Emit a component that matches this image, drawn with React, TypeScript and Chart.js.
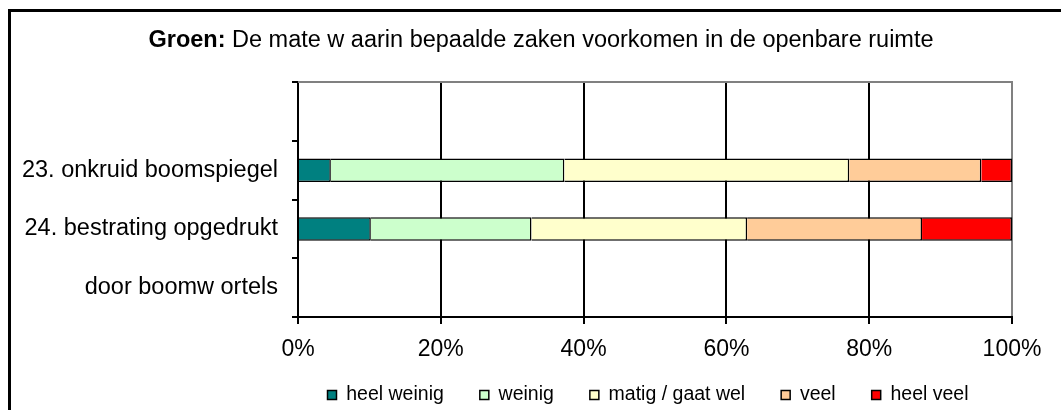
import { useEffect, useRef } from 'react';
import { Chart, registerables } from 'chart.js';

Chart.register(...registerables);

const categories = ['', '23. onkruid boomspiegel', '24. bestrating opgedrukt', 'door boomw ortels'];
const seriesNames = ['heel weinig', 'weinig', 'matig / gaat wel', 'veel', 'heel veel'];
const heelWeinig = [null, 4.6, 10.2, null];
const weinig = [null, 32.7, 22.5, null];
const matig = [null, 39.9, 30.2, null];
const veel = [null, 18.5, 24.5, null];
const heelVeel = [null, 4.3, 12.6, null];
const seriesColors = ['#008080', '#CCFFCC', '#FFFFCC', '#FFCC99', '#FF0000'];
const xTickStep = 20;
const titleBold = 'Groen:';
const titleRest = ' De mate w aarin bepaalde zaken voorkomen in de openbare ruimte';

const FONT = 'Arial, "Liberation Sans", sans-serif';
const TITLE_SIZE = 23.5;

const framePlugin = {
  id: 'frameAndTitle',
  beforeDraw(chart: any) {
    const ctx = chart.ctx;
    // place the legend row under the plot area, as in the reference
    if (chart.legend) {
      const lg = chart.legend;
      lg.top = 349.25;
      lg.bottom = chart.height;
      lg.left = 284;
      lg.right = 1012;
    }
    ctx.save();
    ctx.fillStyle = '#ffffff';
    ctx.fillRect(0, 0, chart.width, chart.height);
    ctx.strokeStyle = '#000000';
    ctx.lineWidth = 3;
    ctx.strokeRect(9.5, 10.5, chart.width + 60, chart.height + 60);
    ctx.fillStyle = '#000000';
    ctx.textBaseline = 'alphabetic';
    ctx.textAlign = 'left';
    ctx.font = `bold ${TITLE_SIZE}px ${FONT}`;
    const wb = ctx.measureText(titleBold).width;
    ctx.font = `${TITLE_SIZE}px ${FONT}`;
    const wr = ctx.measureText(titleRest).width;
    const x0 = 541 - (wb + wr) / 2;
    ctx.font = `bold ${TITLE_SIZE}px ${FONT}`;
    ctx.fillText(titleBold, x0, 47);
    ctx.font = `${TITLE_SIZE}px ${FONT}`;
    ctx.fillText(titleRest, x0 + wb, 47);
    ctx.restore();
  },
  afterDraw(chart: any) {
    const { ctx, chartArea } = chart;
    ctx.save();
    ctx.strokeStyle = '#808080';
    ctx.lineWidth = 2;
    ctx.beginPath();
    ctx.moveTo(chartArea.left, chartArea.top);
    ctx.lineTo(chartArea.right + 1, chartArea.top);
    ctx.stroke();
    ctx.restore();
  },
};

export default function App() {
  const ref = useRef<HTMLCanvasElement>(null);

  useEffect(() => {
    if (!ref.current) return;
    Chart.defaults.font.family = FONT;
    Chart.defaults.color = '#000000';
    const values = [heelWeinig, weinig, matig, veel, heelVeel];
    const chart = new Chart(ref.current, {
      type: 'bar',
      data: {
        labels: categories,
        datasets: seriesNames.map((name, i) => ({
          label: name,
          data: values[i],
          backgroundColor: seriesColors[i],
          borderColor: '#000000',
          borderWidth: 1.5,
          barPercentage: 0.4,
          categoryPercentage: 1,
        })),
      },
      options: {
        indexAxis: 'y',
        responsive: false,
        animation: false,
        devicePixelRatio: 1,
        layout: { padding: { left: 10, right: 49, top: 82, bottom: 3 } },
        plugins: {
          title: { display: false },
          tooltip: { enabled: false },
          legend: {
            position: 'bottom',
            maxHeight: 40,
            labels: {
              boxWidth: 9,
              boxHeight: 9,
              padding: 36,
              color: '#000000',
              font: { size: 19.5, family: FONT },
            },
          },
        },
        scales: {
          x: {
            stacked: true,
            min: 0,
            max: 100,
            afterFit: (scale: any) => { scale.height = 50; },
            ticks: {
              stepSize: xTickStep,
              padding: 12,
              maxRotation: 0,
              font: { size: 23, family: FONT },
              color: '#000000',
              callback: (v: any) => `${v}%`,
            },
            grid: {
              color: (c: any) => (c.tick && c.tick.value === 100 ? '#808080' : '#000000'),
              lineWidth: 2,
              tickLength: 7,
              tickColor: '#000000',
              drawTicks: true,
            },
            border: { color: '#000000', width: 2 },
          },
          y: {
            stacked: true,
            afterFit: (scale: any) => { scale.width = 288; },
            ticks: {
              padding: 14,
              font: { size: 23.5, family: FONT },
              color: '#000000',
              autoSkip: false,
            },
            grid: {
              offset: true,
              drawOnChartArea: false,
              color: '#000000',
              lineWidth: 2,
              tickLength: 6,
            },
            border: { color: '#000000', width: 2 },
          },
        },
      },
      plugins: [framePlugin],
    } as any);
    return () => chart.destroy();
  }, []);

  return (
    <canvas
      ref={ref}
      width={1061}
      height={410}
      style={{ position: 'fixed', left: 0, top: 0, width: 1061, height: 410, display: 'block' }}
    />
  );
}
